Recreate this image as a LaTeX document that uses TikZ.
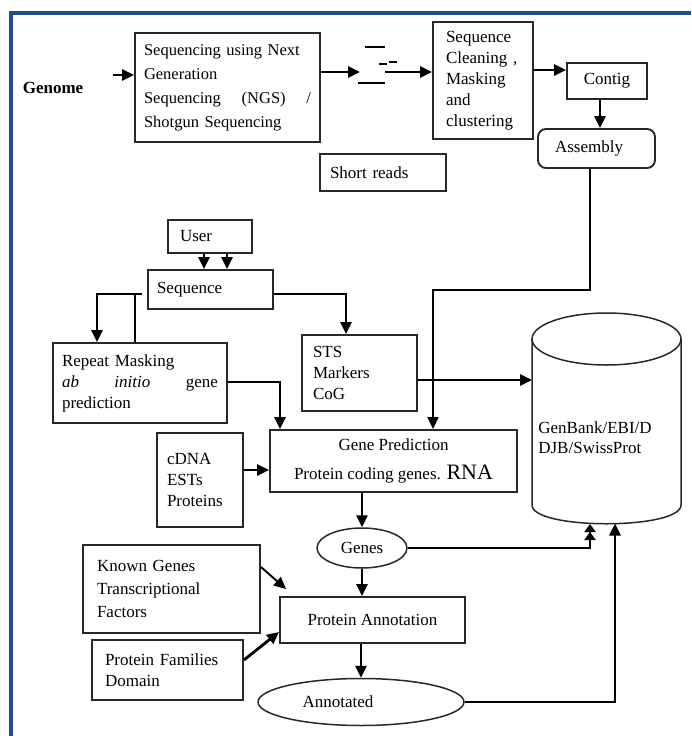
\documentclass[tikz,border=0pt]{standalone}
\usepackage{fontspec}
\setmainfont{Liberation Serif}
\usetikzlibrary{arrows.meta,shapes.geometric,calc}
\definecolor{frameblue}{RGB}{31,78,140}
\definecolor{boxgray}{RGB}{40,40,40}
\begin{document}
\begin{tikzpicture}[x=1pt,y=-1pt,
  every node/.style={font=\fontsize{17}{21}\selectfont},
  box/.style={draw=boxgray, line width=1.9pt, rectangle, align=left, inner ysep=0pt},
  oval/.style={draw=boxgray, line width=1.5pt, ellipse, inner sep=0pt},
  conn/.style={line width=2.8pt, draw=black},
  arr/.style={conn, -{Triangle[length=12pt,width=11pt]}},
  thinarr/.style={line width=1.9pt, draw=black, -{Triangle[length=12pt,width=11pt]}},
]
\useasboundingbox (0,0) rectangle (691,736);
\draw[frameblue, line width=4pt] (11,736) -- (11,13) -- (691,13);

% nodes
\node[font=\bfseries\fontsize{17}{21}\selectfont] (genome) at (53,88) {Genome};
\node[box, minimum width=185pt, minimum height=109pt, text width=167pt, inner xsep=9pt, font=\fontsize{16.5}{24}\selectfont] (ngs) at (227.5,87.5)
  {Sequencing using Next\\Generation\\Sequencing \hfill (NGS) \hfill /\\Shotgun Sequencing};
\node[box, minimum width=100pt, minimum height=117pt, text width=74pt, inner xsep=13pt] (clean) at (483,80.5)
  {Sequence\\Cleaning ,\\Masking\\and\\clustering};
\node[box, minimum width=80pt, minimum height=36pt, align=center] (contig) at (607,81) {Contig};
\node[box, rounded corners=8pt, minimum width=117pt, minimum height=39pt, text width=83pt, inner xsep=17pt] (assembly) at (596.5,148.5) {Assembly};
\node[box, minimum width=126pt, minimum height=37pt, text width=106pt, inner xsep=10pt] (short) at (383,172.5) {Short reads};
\node[box, minimum width=84pt, minimum height=33pt, text width=60pt, inner xsep=12pt] (user) at (210,236.5) {User};
\node[box, minimum width=125pt, minimum height=39pt, text width=107pt, inner xsep=9pt] (seq) at (210.5,289.5) {Sequence};
\node[box, minimum width=174pt, minimum height=80pt, text width=156pt, inner xsep=9pt] (repeat) at (140,383)
  {Repeat Masking\\\textit{ab} \hfill \textit{initio} \hfill gene\\prediction};
\node[box, minimum width=115pt, minimum height=76pt, text width=93pt, inner xsep=11pt] (sts) at (359.5,373) {STS\\Markers\\CoG};
\node[box, minimum width=86pt, minimum height=94pt, text width=66pt, inner xsep=10pt] (cdna) at (200,480) {cDNA\\ESTs\\Proteins};
\node[box, minimum width=247pt, minimum height=62pt, align=center, font=\fontsize{17}{29}\selectfont] (gene) at (393.5,461)
  {Gene Prediction\\Protein coding genes. {\fontsize{22}{29}\selectfont RNA}};
\node[oval, minimum width=90pt, minimum height=40pt] (genes) at (362,548) {Genes};
\node[box, minimum width=185pt, minimum height=46pt, align=center] (prot) at (372.5,620) {Protein Annotation};
\node[box, minimum width=177pt, minimum height=88pt, text width=149pt, inner xsep=14pt, font=\fontsize{17}{23}\selectfont] (known) at (171.5,589)
  {Known Genes\\Transcriptional\\Factors};
\node[box, minimum width=151pt, minimum height=60pt, text width=125pt, inner xsep=13pt] (fam) at (167.5,670) {Protein Families\\Domain};
\node[oval, minimum width=206pt, minimum height=47pt] (annot) at (361,702) {Annotated\hspace*{46pt}};

% database cylinder
\draw[draw=boxgray, line width=1.5pt] (532,339) -- (532,505) .. controls (532,530) and (681,530) .. (681,505) -- (681,339);
\draw[draw=boxgray, line width=1.5pt] (606.5,339) ellipse [x radius=74.5pt, y radius=26pt];
\node[align=left, font=\fontsize{17}{20}\selectfont] (db) at (595,438) {GenBank/EBI/D\\DJB/SwissProt};
\coordinate (dbin) at (532,380);
\coordinate (dbgenes) at (590,524);
\coordinate (dbannot) at (615,523.5);

% short reads symbol
\draw[line width=1.6pt] (365,47) -- (385,47);
\draw[line width=1.6pt] (379,64) -- (387,64);
\draw[line width=1.6pt] (389,62) -- (397,62);
\draw[line width=1.6pt] (358,83) -- (385,83);

% connectors
\coordinate (gstart) at (113,75);
\draw[arr] (gstart) -- (gstart -| ngs.west);
\coordinate (r1) at (360,72);
\coordinate (r2) at (385,72);
\draw[arr] (ngs.east |- r1) -- (r1);
\draw[arr] (r2) -- (r2 -| clean.west);
\draw[arr] ([yshift=10.5pt]clean.east) -- ([yshift=10.5pt]clean.east -| contig.west);
\draw[arr] ([xshift=-7pt]contig.south) -- ([xshift=-7pt]contig.south |- assembly.north);
\coordinate (turn) at (433,290);
\draw[thinarr] ([xshift=-6.5pt]assembly.south) |- (turn) -- (turn |- gene.north);

\draw[arr] ([xshift=-6pt]user.south) -- ([xshift=-6pt]user.south |- seq.north);
\draw[arr] ([xshift=17pt]user.south) -- ([xshift=17pt]user.south |- seq.north);

\coordinate (rl) at (97,294);
\draw[arr] ([xshift=-5pt,yshift=-4.5pt]seq.west) -- (rl) -- (rl |- repeat.north);
\coordinate (rm) at (135,294);
\draw[line width=1.9pt] (rm) -- (rm |- repeat.north);
\coordinate (sr) at (346,294);
\draw[arr] ([yshift=-4.5pt]seq.east) -- (sr) -- (sr |- sts.north);

\coordinate (rg) at (280,382);
\draw[arr] (repeat.east |- rg) -- (rg) -- (rg |- gene.north);
\draw[arr] ([yshift=-7pt]sts.east) -- (dbin);
\draw[arr] ([yshift=10pt]cdna.east) -- ([yshift=10pt]cdna.east -| gene.west);

\draw[arr] (genes.north |- gene.south) -- (genes.north);
\draw[conn, -{Triangle[length=8pt,width=11pt]Triangle[length=8pt,width=11pt]}] (genes.east) -| (dbgenes);
\draw[arr] (genes.south) -- (genes.south |- prot.north);
\draw[thinarr] ([yshift=22pt]known.east) -- ([xshift=7pt,yshift=7pt]prot.north west);
\draw[arr] ([yshift=10pt]fam.east) -- ([yshift=-12pt]prot.west);
\draw[arr] (annot.north |- prot.south) -- (annot.north);
\draw[arr] (annot.east) -| (dbannot);
\end{tikzpicture}
\end{document}
